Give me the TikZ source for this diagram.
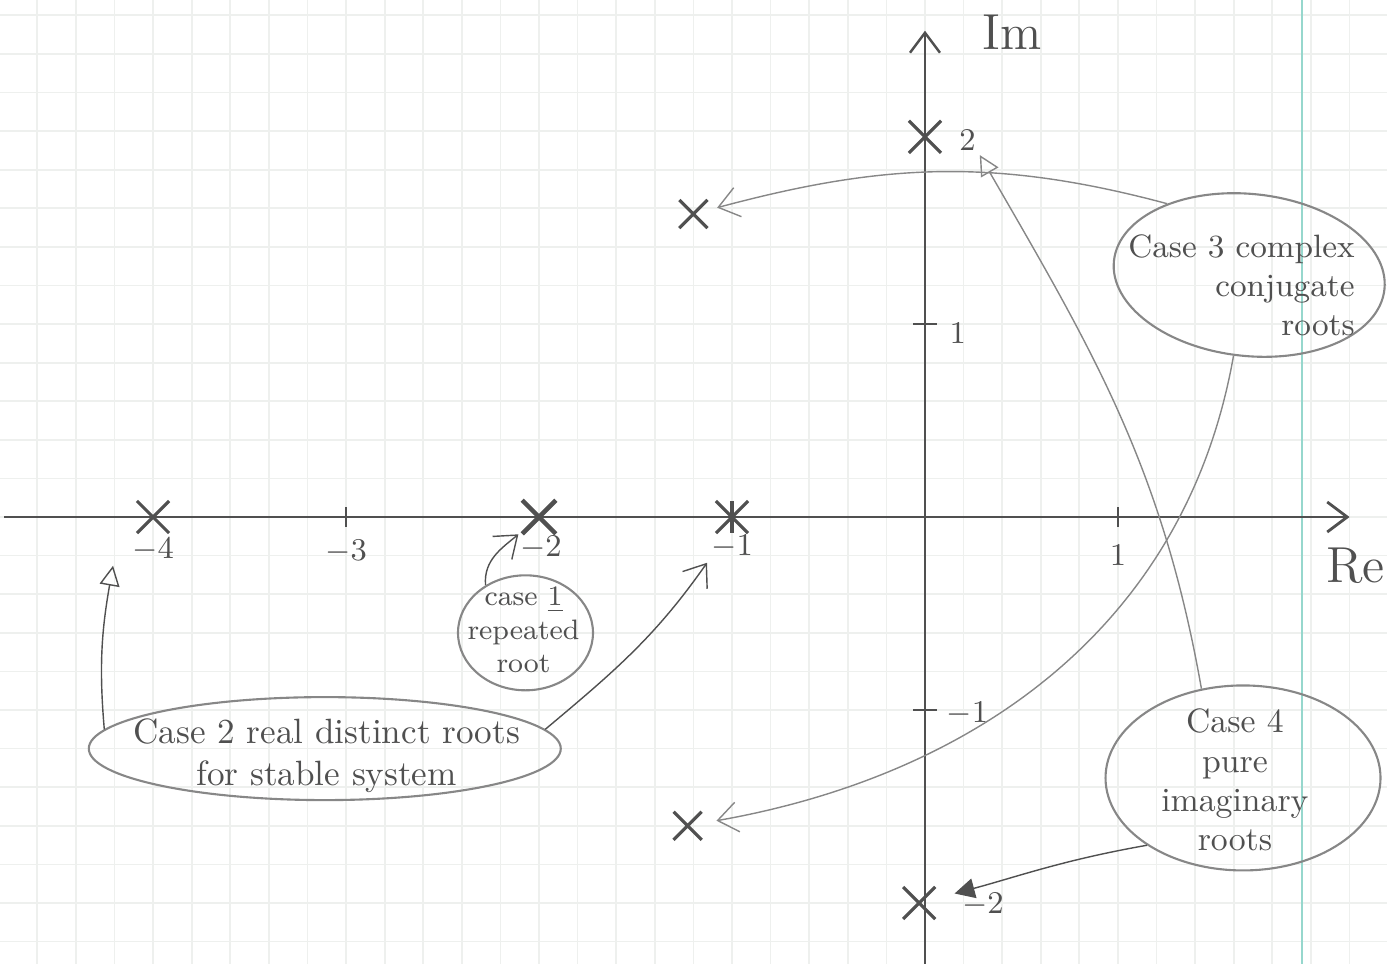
\documentclass[tikz,border=0pt]{standalone}
\usepackage{amsmath,amssymb}
\usepackage{xcolor}
\usetikzlibrary{shapes.geometric,shapes.misc,arrows.meta}

\definecolor{pencil}{RGB}{80,80,80}
\definecolor{softpencil}{RGB}{135,135,135}
\definecolor{paperline}{RGB}{238,240,238}
\definecolor{marginline}{RGB}{150,215,205}

\begin{document}
\begin{tikzpicture}[x=1.93cm,y=1.93cm,>={Straight Barb[length=2mm,width=3mm]},
    root/.style={cross out,draw=pencil,line width=0.9pt,minimum size=2.9mm,inner sep=0pt},
    lab/.style={text=pencil,font=\small,inner sep=1pt},
    bubble/.style={draw=softpencil,ellipse,line width=0.6pt},
    note/.style={text=pencil,align=center}]
    \useasboundingbox (-4.793,-2.316) rectangle (2.394,2.679);
    % the squared paper
    \draw[paperline,line width=0.5pt] (-4.793,-2.316) grid[step=0.2] (2.394,2.679);
    \draw[marginline,line width=0.6pt] (1.953,-2.316) -- (1.953,2.679);
    % axes
    \draw[pencil,line width=0.8pt,->] (-4.77,0) -- (2.2,0);
    \draw[pencil,line width=0.7pt,->] (0,-2.316) -- (0,2.52);
    \foreach \x in {-3,1} \draw[pencil,line width=0.8pt] (\x,0.05) -- (\x,-0.05);
    \foreach \y in {-1,1} \draw[pencil,line width=0.8pt] (-0.06,\y) -- (0.06,\y);
    \node[lab] (l4) at (-4,-0.17) {$-4$};
    \node[lab] (l3) at (-3,-0.18) {$-3$};
    \node[lab] (l2) at (-1.99,-0.16) {$-2$};
    \node[lab] (l1) at (-1,-0.155) {$-1$};
    \node[lab] (lr1) at (1,-0.2) {$1$};
    \node[lab] (li2) at (0.22,1.95) {$2$};
    \node[lab] (li1) at (0.17,0.95) {$1$};
    \node[lab] (lim1) at (0.22,-1.02) {$-1$};
    \node[lab] (lim2) at (0.3,-2.01) {$-2$};
    \node[text=pencil,font=\Large] (re) at (2.23,-0.25) {Re};
    \node[text=pencil,font=\Large] (im) at (0.45,2.51) {Im};
    % roots
    \node[root] (r4) at (-4,0) {};
    \node[root,line width=1.3pt] (r2) at (-2,0) {};
    \node[root] (r1) at (-1,0) {};
    \draw[pencil,line width=0.9pt] (r1.north) -- (r1.south);
    \node[root] (p2) at (0,1.97) {};
    \node[root] (m2) at (-0.03,-2) {};
    \node[root,minimum size=2.5mm] (zu) at (-1.2,1.57) {};
    \node[root,minimum size=2.5mm] (zl) at (-1.23,-1.6) {};
    % the four cases
    \node[bubble,minimum width=1.35cm,minimum height=1.15cm] (c1) at (-2.07,-0.6) {};
    \node[note,font=\footnotesize] (t1) at (-2.08,-0.585) {case \underline{1}\\repeated\\root};
    \node[bubble,minimum width=4.72cm,minimum height=1.03cm] (c2) at (-3.11,-1.2) {};
    \node[note] (t2) at (-3.1,-1.235) {Case 2 real distinct roots\\for stable system};
    \node[bubble,minimum width=2.72cm,minimum height=1.62cm,rotate=-6] (c3) at (1.68,1.254) {};
    \node[note,align=right,font=\fontsize{9.2}{11}\selectfont] (t3) at (1.64,1.2) {Case 3 complex\\conjugate\\roots};
    \node[bubble,minimum width=2.75cm,minimum height=1.85cm] (c4) at (1.648,-1.352) {};
    \node[note,font=\fontsize{9.6}{11.2}\selectfont] (t4) at (1.606,-1.363) {Case 4\\pure\\imaginary\\roots};
    % arrows to the roots
    \draw[->,pencil,shorten >=0.5mm] (c1.130) to[out=95,in=220] (r2);
    \draw[-{Triangle[open,length=2mm,width=2mm]},pencil] (c2.175) to[out=95,in=-100] ([xshift=-1.5mm]l4.south west);
    \draw[->,pencil] (c2.5) to[out=40,in=235] (l1.south west);
    \draw[->,softpencil,shorten >=1mm] (c3.145) to[out=165,in=15] (zu);
    \draw[->,softpencil,shorten >=1.5mm] (c3.265) to[out=-100,in=10] (zl);
    \draw[-{Triangle[open,length=2mm,width=2mm]},softpencil] (c4.115) to[out=100,in=-60] (li2.south east);
    \draw[-{Triangle[length=2mm,width=2mm]},pencil,shorten >=2mm] (c4.215) to[out=190,in=15] (m2);
\end{tikzpicture}
\end{document}
